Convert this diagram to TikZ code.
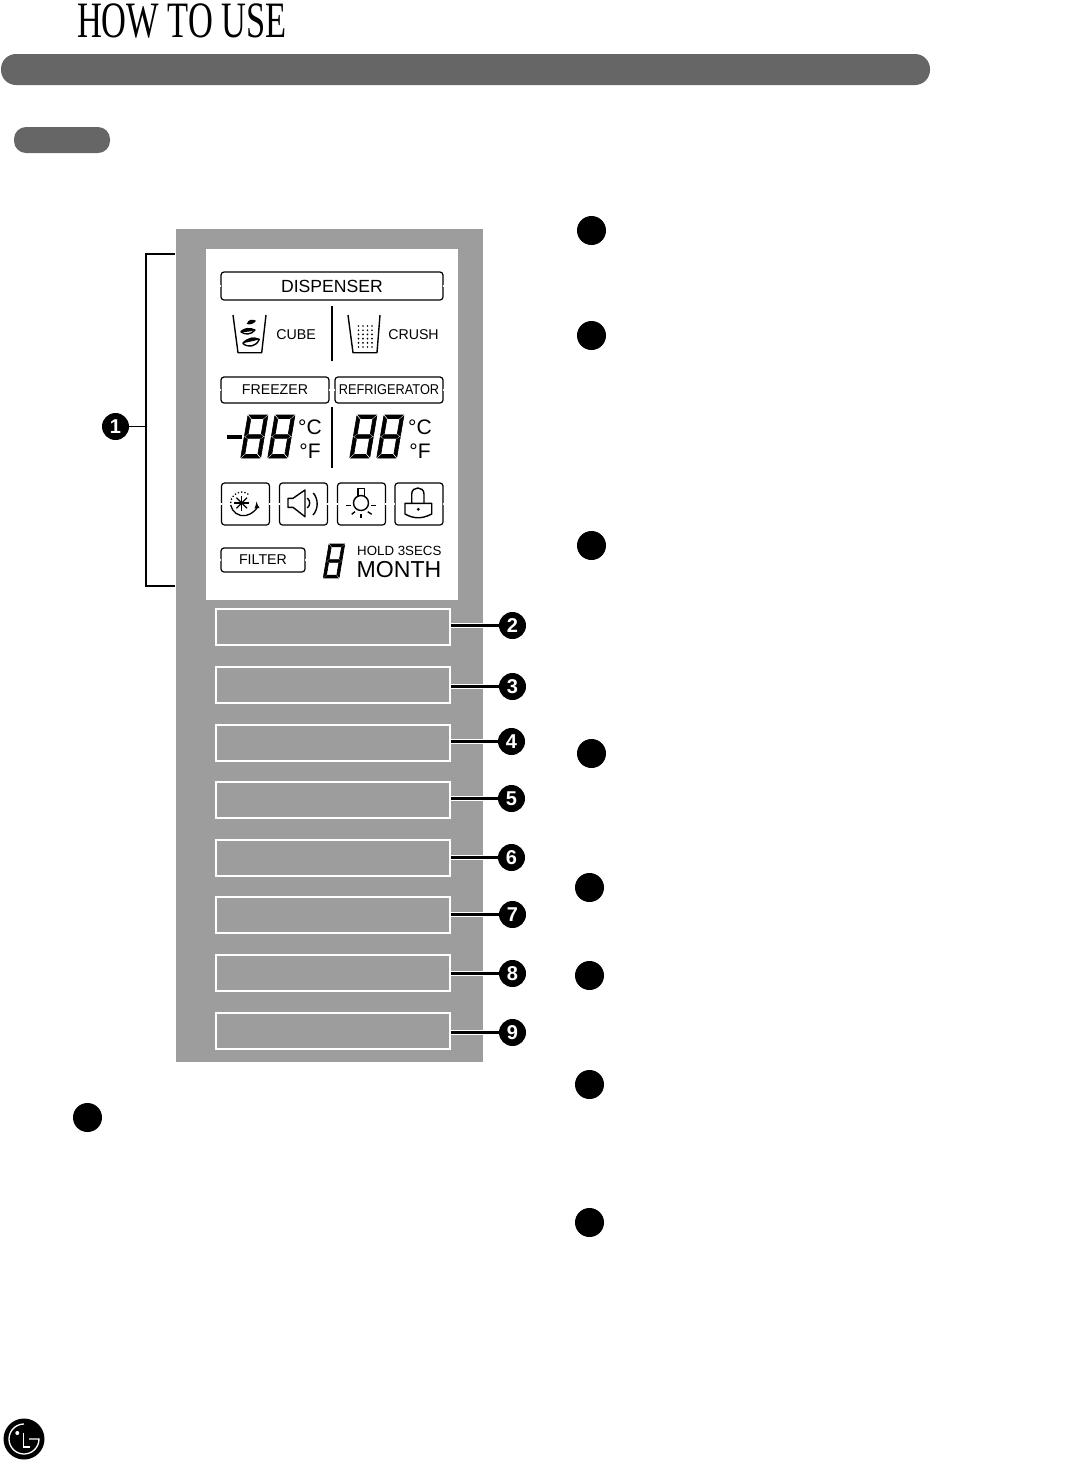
\documentclass[tikz,border=0pt]{standalone}
\usepackage{fontspec}
\setmainfont{Liberation Sans}
\newfontfamily\titlefont{Liberation Serif}
\definecolor{barfill}{HTML}{666666}
\definecolor{panelfill}{HTML}{9D9D9D}
\newcommand{\fsize}[1]{\fontsize{#1}{#1}\selectfont}
\begin{document}
\begin{tikzpicture}[
   x=1pt,y=-1pt,
   pill/.style={fill=barfill,draw=none,rounded corners=12pt},
   lcdbox/.style={draw=black,line width=1.2pt,rounded corners=3pt,inner sep=0pt,font=\fsize{14.2}},
   lcdtext/.style={inner sep=0pt,font=\fsize{14.2}},
   btn/.style={draw=white,fill=panelfill,line width=1.6pt,minimum width=234,minimum height=36,inner sep=0pt},
   num/.style={circle,fill=black,text=white,minimum size=27,inner sep=0pt,font=\fsize{20}\bfseries},
   blank/.style={circle,fill=black,minimum size=29,inner sep=0pt},
   halo/.style={white,line width=5pt},
   lead/.style={black,line width=2.2pt},
   icon/.style={black,line width=1.4pt,line join=round},
   lcdeight/.pic={
     \filldraw[line width=.6pt] (1,0)--(19,0)--(15.5,3.5)--(4.5,3.5)--cycle;
     \filldraw[line width=.6pt] (1.5,21.5)--(3.5,19.7)--(16.5,19.7)--(18.5,21.5)--(16.5,23.3)--(3.5,23.3)--cycle;
     \filldraw[line width=.6pt] (1,43)--(19,43)--(15.5,39.5)--(4.5,39.5)--cycle;
     \filldraw[line width=.6pt] (0,1)--(3.5,4.5)--(3.5,18.5)--(0,21)--cycle;
     \filldraw[line width=.6pt] (20,1)--(16.5,4.5)--(16.5,18.5)--(20,21)--cycle;
     \filldraw[line width=.6pt] (0,22)--(3.5,24.5)--(3.5,38.5)--(0,42)--cycle;
     \filldraw[line width=.6pt] (20,22)--(16.5,24.5)--(16.5,38.5)--(20,42)--cycle;
   }
 ]
  \useasboundingbox (0,0) rectangle (1076,1460);

  \node[anchor=base west,inner sep=0pt,xscale=.675,font=\titlefont\fsize{51}] (title) at (77,37) {HOW TO USE};
  \fill[pill,rounded corners=15pt] (1,54) rectangle (930,85);
  \fill[pill] (14,127) rectangle (110,153);

  \fill[panelfill] (176,229) rectangle (483,1062);
  \fill[white] (206,249) rectangle (458,600);

  \node[lcdbox,minimum width=222,minimum height=28,font=\fsize{17.6}] (dispenser) at (332,286) {DISPENSER};
  \node[lcdbox,minimum width=108,minimum height=26] (freezer) at (275,390) {FREEZER};
  \node[lcdbox,minimum width=108,minimum height=26] (fridge) at (389,390) {\scalebox{.9}[1]{REFRIGERATOR}};
  \node[lcdbox,minimum width=84,minimum height=24] (filter) at (263,560) {FILTER};
  \foreach \x/\n in {245.5/snow,303.5/sound,361.5/light,419/lock} {
    \node[lcdbox,minimum width=48,minimum height=42] (\n) at (\x,504) {};
  }
  \foreach \n in {dispenser,freezer,fridge,filter,snow,sound,light,lock} {
    \fill[white] ([xshift=-1pt,yshift=-1.2pt]\n.west) rectangle ([xshift=1pt,yshift=1.2pt]\n.west);
    \fill[white] ([xshift=-1pt,yshift=-1.2pt]\n.east) rectangle ([xshift=1pt,yshift=1.2pt]\n.east);
  }

  \draw[line width=1.6pt] (332,306)--(332,361);
  \draw[line width=1.6pt] (332,407)--(332,468);

  \draw[icon] (233,315)--(238,352.7)--(261.7,352.7)--(266,315);
  \draw[icon] (348,315)--(353,352.7)--(377,352.7)--(380,315);
  \fill (246.7,324) .. controls (248,319) and (253,319) .. (256,320.7) .. controls (254,324) and (250,325) .. (246.7,324);
  \draw[icon,fill=white] (240.7,331.7) .. controls (245,328) and (250,328) .. (255,330) .. controls (251,335) and (245,335) .. (240.7,331.7);
  \fill (240.7,331.7) .. controls (245,327) and (250,327) .. (255,330) .. controls (250,332) and (245,332) .. (240.7,331.7);
  \draw[icon,fill=white] (242.7,343.3) .. controls (248,338) and (254,337) .. (259.3,339.3) .. controls (256,347) and (248,348) .. (242.7,343.3);
  \fill (242.7,343.3) .. controls (248,337) and (254,336) .. (259.3,339.3) .. controls (254,341) and (248,342) .. (242.7,343.3);
  \foreach \x in {358.5,363,367.5,372} {
    \foreach \y in {326,330.2,334.4,338.6,342.8,347} {
      \fill (\x,\y) circle[radius=.95pt];
    }
  }
  \node[lcdtext] (cube) at (296,334.5) {CUBE};
  \node[lcdtext] (crush) at (413.5,334.5) {CRUSH};

  \fill (226.7,435) rectangle (242,438.8);
  \pic[xslant=.17] at (248,415) {lcdeight};
  \pic[xslant=.17] at (275,415) {lcdeight};
  \pic[xslant=.17] at (357,415) {lcdeight};
  \pic[xslant=.17] at (384,415) {lcdeight};
  \pic[xslant=.17,scale=.79] at (329,544) {lcdeight};
  \foreach \x/\n in {310/l,420/r} {
    \node[lcdtext,font=\fsize{21}] (degc\n) at (\x,427) {°C};
    \node[lcdtext,font=\fsize{21}] (degf\n) at (\x,451) {°F};
  }

  \coordinate (flake) at (241.7,503);
  \foreach \a in {0,45,90,135} {
    \draw[line width=1.2pt] (flake)+(\a:7.5pt)--+(\a+180:7.5pt);
  }
  \draw[line width=1.3pt,dotted] (230.7,503) arc[start angle=180,end angle=50,radius=11pt];
  \draw[line width=1.3pt,-latex] (230.7,505) arc[start angle=190,end angle=365,radius=13pt];
  \draw[icon] (288,498.3)--(293,498.3)--(305,490)--(305,516.7)--(293,507.3)--(288,507.3)--cycle;
  \draw[icon] (307.3,498) .. controls (310.5,501) and (310.5,505) .. (307.3,508);
  \draw[icon] (313.3,493) .. controls (318.5,499) and (318.5,509) .. (313,515);
  \draw[icon] (361,503) circle[radius=7.5pt];
  \draw[icon] (358,497)--(358,488.5)--(364.5,488.5)--(364.5,497);
  \draw[icon] (346,505.7)--(350.7,505.7);
  \draw[icon] (371,505.7)--(376,505.7);
  \draw[icon] (351.7,514.3)--(355,511.7);
  \draw[icon] (371.7,514.3)--(367.7,511.7);
  \draw[icon] (361,514.3)--(361,518.3);
  \draw[icon] (411.7,503.3)--(411.7,494) .. controls (411.7,486) and (424,486) .. (424,494)--(424,503.3);
  \draw[icon] (405,503.3)--(431.7,503.3)--(431.7,514) .. controls (422,519) and (414,519) .. (405,514)--cycle;
  \fill (418.3,509.3) circle[radius=1.6pt];

  \node[lcdtext,anchor=west,font=\fsize{13.3}] (hold) at (357,550.5) {HOLD 3SECS};
  \node[lcdtext,anchor=west,font=\fsize{23.1}] (month) at (356.5,570) {MONTH};

  \foreach \i/\y/\cy/\cx in {2/627/625.5/512.5,3/685/686.5/512.5,4/743/741.5/511.5,5/800/798.5/511.5,6/858/857.5/511.5,7/915/914.5/512.5,8/973/973.5/512.5,9/1031/1032.5/512.5} {
    \node[btn] (btn\i) at (333,\y) {};
    \node[num] (n\i) at (\cx,\cy) {\i};
    \coordinate (a\i) at (btn\i.east |- n\i);
    \draw[halo] (a\i)--(483,\cy);
    \draw[lead] (a\i)--(n\i);
  }

  \node[num] (n1) at (115.5,426.5) {1};
  \coordinate (brtop) at (175,254);
  \coordinate (brbot) at (175,586);
  \draw[line width=1.8pt] (brtop)-|(146,586)--(brbot);
  \draw[line width=1.8pt] (n1)--(146,426.5);

  \foreach \x/\y/\n in {591.5/230.5/a,591.5/335.5/b,591.5/545.5/c,591.5/753.5/d,589.5/887.5/e,589.5/975.5/f,589.5/1084.5/g,589.5/1222.5/h,87.5/1117.5/i} {
    \node[blank] (blank\n) at (\x,\y) {};
  }

  \node[circle,fill=black,minimum size=41,inner sep=0pt] (logo) at (24,1439) {};
  \draw[white,line width=1.3pt] (24,1424) arc[start angle=90,end angle=360,radius=15pt]--(29,1439);
  \draw[white,line width=1.5pt] (23.3,1432.5)--(23.3,1447)--(30,1447);
  \fill[white] (17.3,1433) circle[radius=2pt];
\end{tikzpicture}
\end{document}
